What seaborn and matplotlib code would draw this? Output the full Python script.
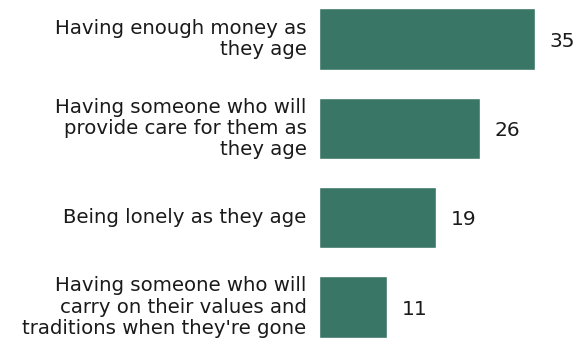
import matplotlib
matplotlib.use("Agg")
import matplotlib.pyplot as plt
import seaborn as sns
import pandas as pd

categories = [
    "Having enough money as\nthey age",
    "Having someone who will\nprovide care for them as\nthey age",
    "Being lonely as they age",
    "Having someone who will\ncarry on their values and\ntraditions when they're gone",
]
values = [35, 26, 19, 11]

sns.set_style("white")
plt.rcParams["font.family"] = ["DejaVu Sans"]

df = pd.DataFrame({"cat": categories, "val": values})

fig = plt.figure(figsize=(5.86, 3.43), dpi=100)
ax = fig.add_axes([319 / 586, 0, 267 / 586, 1])

sns.barplot(data=df, y="cat", x="val", orient="h", color="#3a7666",
            saturation=1, width=0.69, ax=ax)

ax.set_xlim(0, 267 / 6.18)
ax.set_ylim(3.403, -0.437)
ax.set_xlabel("")
ax.set_ylabel("")
ax.set_xticks([])
ax.set_yticks([])
sns.despine(ax=ax, left=True, bottom=True)

for i, (c, v) in enumerate(zip(categories, values)):
    ax.annotate(str(v), xy=(v, i), xytext=(10.5, -1.5), textcoords="offset points",
                ha="left", va="center", fontsize=14.5, color="#1a1a1a")
    ax.annotate(c, xy=(0, i), xytext=(-9, 0), textcoords="offset points",
                ha="right", va="center", fontsize=14.2, color="#1a1a1a",
                linespacing=1.14, multialignment="right")

fig.savefig("out.png", dpi=100)
